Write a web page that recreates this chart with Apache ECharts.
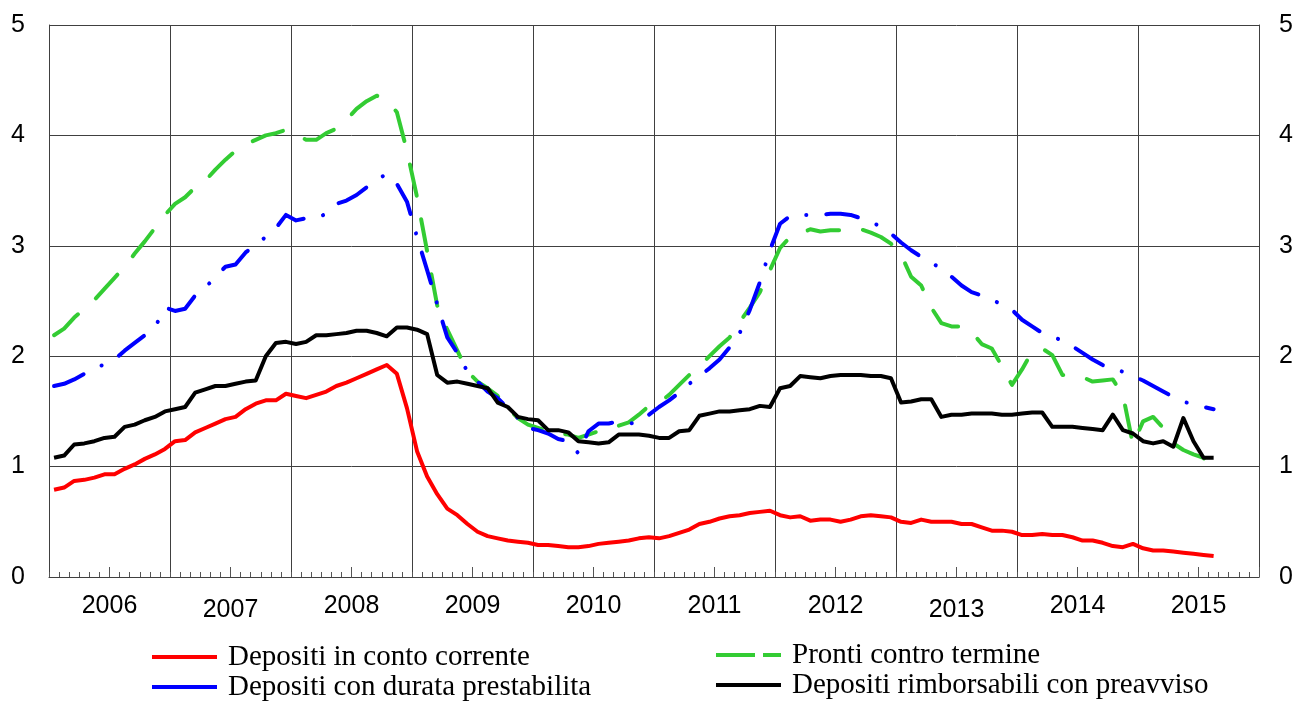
<!DOCTYPE html>
<html>
<head>
<meta charset="utf-8">
<script src="https://cdn.jsdelivr.net/npm/echarts@6/dist/echarts.min.js"></script>
<style>
html,body{margin:0;padding:0;background:#fff;}
#chart{width:1302px;height:702px;}
</style>
</head>
<body>
<div id="chart"></div>
<script>
// ---- Data (monthly, Jan 2006 - Aug 2015) ----
const years = ['2006','2007','2008','2009','2010','2011','2012','2013','2014','2015'];
const yTicks = [0, 1, 2, 3, 4, 5];

const seriesNames = [
  'Depositi in conto corrente',
  'Depositi con durata prestabilita',
  'Pronti contro termine',
  'Depositi rimborsabili con preavviso'
];

const contoCorrente = [
  0.79,0.81,0.87,0.88,0.90,0.93,0.93,0.98,1.02,1.07,1.11,1.16,
  1.23,1.24,1.31,1.35,1.39,1.43,1.45,1.52,1.57,1.60,1.60,1.66,
  1.64,1.62,1.65,1.68,1.73,1.76,1.80,1.84,1.88,1.92,1.84,1.53,
  1.14,0.91,0.75,0.62,0.56,0.48,0.41,0.37,0.35,0.33,0.32,0.31,
  0.29,0.29,0.28,0.27,0.27,0.28,0.30,0.31,0.32,0.33,0.35,0.36,
  0.35,0.37,0.40,0.43,0.48,0.50,0.53,0.55,0.56,0.58,0.59,0.60,
  0.56,0.54,0.55,0.51,0.52,0.52,0.50,0.52,0.55,0.56,0.55,0.54,
  0.50,0.49,0.52,0.50,0.50,0.50,0.48,0.48,0.45,0.42,0.42,0.41,
  0.38,0.38,0.39,0.38,0.38,0.36,0.33,0.33,0.31,0.28,0.27,0.30,
  0.26,0.24,0.24,0.23,0.22,0.21,0.20,0.19
];

const durataPrestabilita = [
  1.73,1.75,1.79,1.84,1.88,1.93,1.97,2.05,2.12,2.19,2.26,2.44,
  2.41,2.43,2.55,2.62,2.72,2.81,2.83,2.94,3.01,3.08,3.16,3.28,
  3.23,3.25,3.25,3.29,3.38,3.41,3.46,3.53,3.60,3.65,3.56,3.40,
  3.08,2.78,2.47,2.17,2.03,1.86,1.77,1.68,1.62,1.53,1.44,1.35,
  1.33,1.30,1.25,1.23,1.12,1.32,1.39,1.39,1.41,1.39,1.40,1.47,
  1.54,1.60,1.67,1.75,1.82,1.89,1.97,2.08,2.21,2.42,2.67,2.96,
  3.20,3.27,3.28,3.28,3.28,3.29,3.29,3.28,3.25,3.22,3.17,3.11,
  3.03,2.96,2.90,2.85,2.79,2.72,2.64,2.58,2.55,2.51,2.47,2.42,
  2.33,2.27,2.21,2.18,2.14,2.09,2.03,1.97,1.92,1.88,1.86,1.82,
  1.78,1.73,1.68,1.63,1.59,1.56,1.54,1.52
];

const prontiControTermine = [
  2.19,2.25,2.35,2.43,2.51,2.61,2.71,2.81,2.93,3.04,3.16,3.28,
  3.38,3.44,3.53,3.59,3.69,3.78,3.86,3.92,3.96,4.00,4.02,4.05,
  4.01,3.96,3.96,4.02,4.06,4.14,4.24,4.31,4.36,4.32,4.21,3.86,
  3.44,2.95,2.46,2.24,2.05,1.86,1.77,1.71,1.64,1.53,1.44,1.38,
  1.35,1.32,1.30,1.29,1.26,1.29,1.32,1.35,1.37,1.40,1.47,1.55,
  1.58,1.65,1.74,1.83,1.91,2.00,2.09,2.17,2.31,2.44,2.58,2.78,
  2.98,3.08,3.11,3.15,3.13,3.14,3.14,3.14,3.15,3.12,3.08,3.02,
  2.92,2.72,2.64,2.44,2.30,2.27,2.27,2.22,2.11,2.07,1.91,1.74,
  1.88,2.04,2.07,2.01,1.83,1.82,1.81,1.77,1.78,1.79,1.65,1.20,
  1.41,1.45,1.35,1.21,1.15,1.11,1.08,0.93
];

const rimborsabiliPreavviso = [
  1.08,1.10,1.20,1.21,1.23,1.26,1.27,1.36,1.38,1.42,1.45,1.50,
  1.52,1.54,1.67,1.70,1.73,1.73,1.75,1.77,1.78,2.00,2.12,2.13,
  2.11,2.13,2.19,2.19,2.20,2.21,2.23,2.23,2.21,2.18,2.26,2.26,
  2.24,2.20,1.83,1.76,1.77,1.75,1.73,1.71,1.58,1.54,1.45,1.43,
  1.42,1.33,1.33,1.31,1.23,1.22,1.21,1.22,1.29,1.29,1.29,1.28,
  1.26,1.26,1.32,1.33,1.46,1.48,1.50,1.50,1.51,1.52,1.55,1.54,
  1.71,1.73,1.82,1.81,1.80,1.82,1.83,1.83,1.83,1.82,1.82,1.80,
  1.58,1.59,1.61,1.61,1.45,1.47,1.47,1.48,1.48,1.48,1.47,1.47,
  1.48,1.49,1.49,1.36,1.36,1.36,1.35,1.34,1.33,1.47,1.33,1.30,
  1.23,1.21,1.23,1.18,1.44,1.23,1.08,1.08
];

// month categories built from the years
const months = [];
years.forEach(y => { for (let m = 1; m <= 12; m++) months.push(y + '-' + (m < 10 ? '0' + m : m)); });

const FONT = 'Liberation Sans, Arial, sans-serif';
const SERIF = 'Liberation Serif, Times New Roman, serif';
const GRIDC = '#404040';
const LW = 4;

const chart = echarts.init(document.getElementById('chart'), null, {renderer: 'canvas'});

const option = {
  backgroundColor: '#ffffff',
  animation: false,
  grid: {left: 49, right: 43, top: 25, bottom: 125, containLabel: false},
  xAxis: [
    {
      type: 'category', data: months, boundaryGap: true, position: 'bottom',
      axisLine: {show: true, lineStyle: {color: GRIDC, width: 1}},
      axisTick: {show: true, inside: true, length: 5, interval: 0, lineStyle: {color: '#555', width: 1}},
      axisLabel: {show: false},
      splitLine: {show: true, interval: (i) => i % 12 === 0, lineStyle: {color: GRIDC, width: 1}}
    },
    {
      type: 'category', data: months, boundaryGap: true, position: 'bottom',
      axisLine: {show: false},
      axisTick: {show: true, inside: true, length: 10, interval: (i) => i % 12 === 6, lineStyle: {color: '#555', width: 1}},
      axisLabel: {show: false},
      splitLine: {show: false}
    },
    {
      type: 'category', data: years, boundaryGap: true, position: 'bottom',
      axisLine: {show: false}, axisTick: {show: false}, splitLine: {show: false},
      axisLabel: {
        margin: 17, interval: 0,
        formatter: (v) => (v === '2007' || v === '2013') ? '{b|' + v + '}' : '{a|' + v + '}',
        rich: {
          a: {fontSize: 25, fontFamily: FONT, color: '#000'},
          b: {fontSize: 25, fontFamily: FONT, color: '#000', padding: [4, 0, 0, 0]}
        }
      }
    }
  ],
  yAxis: [
    {
      type: 'value', min: yTicks[0], max: yTicks[yTicks.length - 1], interval: 1, position: 'left',
      axisLine: {show: true, lineStyle: {color: GRIDC, width: 1}},
      axisTick: {show: false},
      axisLabel: {margin: 24, fontSize: 25, fontFamily: FONT, color: '#000'},
      splitLine: {show: true, lineStyle: {color: GRIDC, width: 1}}
    },
    {
      type: 'value', min: yTicks[0], max: yTicks[yTicks.length - 1], interval: 1, position: 'right',
      axisLine: {show: true, lineStyle: {color: GRIDC, width: 1}},
      axisTick: {show: false},
      axisLabel: {margin: 20, fontSize: 25, fontFamily: FONT, color: '#000'},
      splitLine: {show: false}
    }
  ],
  series: [
    {
      name: seriesNames[0], type: 'line', data: contoCorrente, symbol: 'none', z: 3,
      lineStyle: {color: '#ff0000', width: LW, join: 'round'}
    },
    {
      name: seriesNames[2], type: 'line', data: prontiControTermine, symbol: 'none', z: 4,
      lineStyle: {color: '#33cc33', width: LW, type: [32, 24], cap: 'round', join: 'round'}
    },
    {
      name: seriesNames[1], type: 'line', data: durataPrestabilita, symbol: 'none', z: 5,
      lineStyle: {color: '#0000ff', width: LW, type: [32, 20, 0.1, 20], cap: 'round', join: 'round'}
    },
    {
      name: seriesNames[3], type: 'line', data: rimborsabiliPreavviso, symbol: 'none', z: 6,
      lineStyle: {color: '#000000', width: LW, join: 'round'}
    }
  ],
  graphic: [
    {type: 'line', shape: {x1: 152, y1: 657, x2: 217, y2: 657}, style: {stroke: '#ff0000', lineWidth: LW}},
    {type: 'text', x: 228, y: 657, style: {text: seriesNames[0], fill: '#000', fontSize: 29, fontFamily: SERIF, verticalAlign: 'middle'}},
    {type: 'line', shape: {x1: 152, y1: 687, x2: 217, y2: 687}, style: {stroke: '#0000ff', lineWidth: LW}},
    {type: 'text', x: 228, y: 687, style: {text: seriesNames[1], fill: '#000', fontSize: 29, fontFamily: SERIF, verticalAlign: 'middle'}},
    {type: 'line', shape: {x1: 716, y1: 655, x2: 781, y2: 655}, style: {stroke: '#33cc33', lineWidth: LW, lineDash: [39, 8]}},
    {type: 'text', x: 792, y: 655, style: {text: seriesNames[2], fill: '#000', fontSize: 29, fontFamily: SERIF, verticalAlign: 'middle'}},
    {type: 'line', shape: {x1: 716, y1: 685, x2: 781, y2: 685}, style: {stroke: '#000000', lineWidth: LW}},
    {type: 'text', x: 792, y: 685, style: {text: seriesNames[3], fill: '#000', fontSize: 29, fontFamily: SERIF, verticalAlign: 'middle'}}
  ]
};

chart.setOption(option);
</script>
</body>
</html>
